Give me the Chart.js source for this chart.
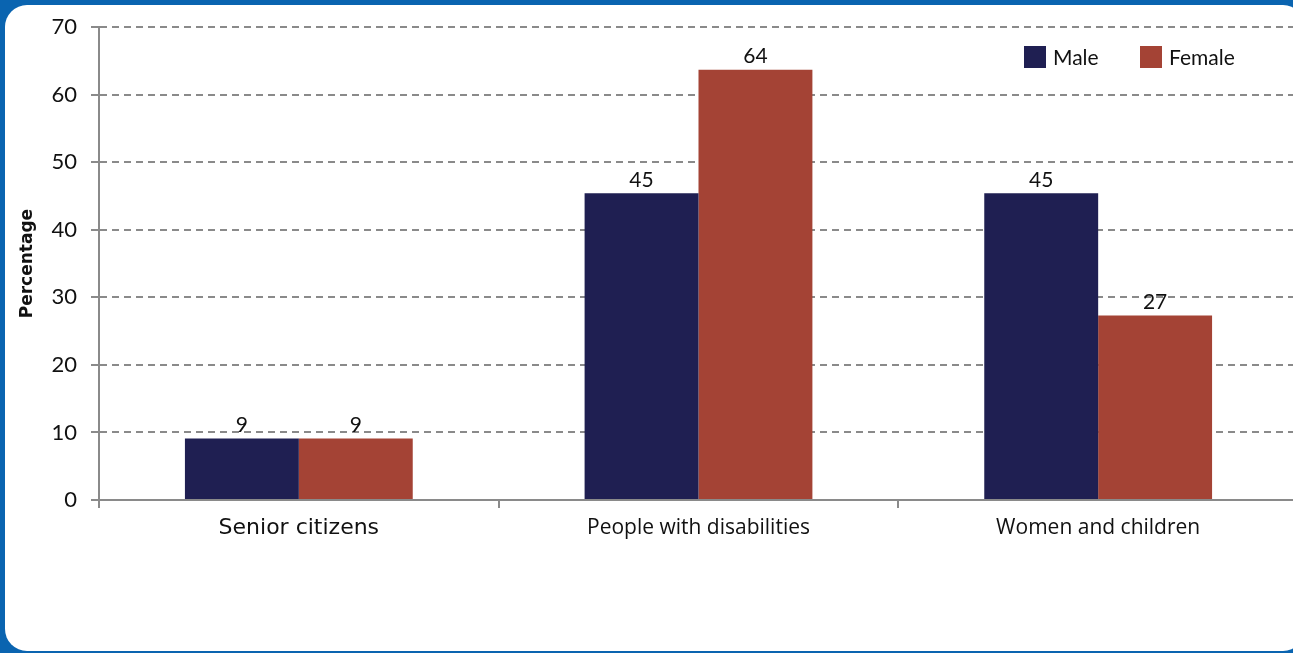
<!DOCTYPE html>
<html>
<head>
<meta charset="utf-8">
<script src="https://cdn.jsdelivr.net/npm/chart.js@4/dist/chart.umd.min.js"></script>
<style>
  html, body { margin:0; padding:0; width:1293px; height:653px; overflow:hidden; background:#0a64b0; }
  #frame { position:absolute; left:5px; top:5px; width:1300px; height:646px; background:#fff; border-radius:22px; }
  #wrap { position:absolute; left:0; top:0; width:1310px; height:653px; }
</style>
</head>
<body>
<div id="frame"></div>
<div id="wrap"><canvas id="c" width="1310" height="653"></canvas></div>
<script>
const categories = ['Senior citizens', 'People with disabilities', 'Women and children'];
const seriesNames = ['Male', 'Female'];
const maleValues = [9.1, 45.4, 45.4];
const femaleValues = [9.1, 63.7, 27.3];
const yTickValues = [0, 10, 20, 30, 40, 50, 60, 70];
const seriesColors = ['#1f1f52', '#a44335'];

const FONT = 'Lato, "DejaVu Sans", sans-serif';

const valueLabels = {
  id: 'valueLabels',
  afterDatasetsDraw(chart) {
    const ctx = chart.ctx;
    ctx.save();
    ctx.fillStyle = '#111';
    ctx.font = '21px ' + FONT;
    ctx.textAlign = 'center';
    ctx.textBaseline = 'bottom';
    chart.data.datasets.forEach((ds, i) => {
      chart.getDatasetMeta(i).data.forEach((bar, j) => {
        ctx.fillText(String(Math.round(ds.data[j])), bar.x, bar.y - 3);
      });
    });
    ctx.restore();
  }
};

const customLegend = {
  id: 'customLegend',
  afterDraw(chart) {
    const ctx = chart.ctx;
    ctx.save();
    ctx.font = '21px ' + FONT;
    ctx.textBaseline = 'middle';
    ctx.textAlign = 'left';
    let x = 1024;
    const y = 57;
    chart.data.datasets.forEach((ds) => {
      ctx.fillStyle = ds.backgroundColor;
      ctx.fillRect(x, y - 11, 22, 22);
      ctx.fillStyle = '#111';
      ctx.fillText(ds.label, x + 29, y + 1);
      x += 116;
    });
    ctx.restore();
  }
};

new Chart(document.getElementById('c'), {
  type: 'bar',
  data: {
    labels: categories,
    datasets: [
      { label: seriesNames[0], data: maleValues, backgroundColor: seriesColors[0] },
      { label: seriesNames[1], data: femaleValues, backgroundColor: seriesColors[1] }
    ]
  },
  options: {
    responsive: false,
    animation: false,
    layout: { padding: { top: 25, left: 0, right: 12, bottom: 0 } },
    datasets: { bar: { categoryPercentage: 0.57, barPercentage: 1.0 } },
    plugins: { legend: { display: false }, tooltip: { enabled: false } },
    scales: {
      x: {
        offset: true,
        grid: { offset: true, drawOnChartArea: false, drawTicks: true, tickLength: 8, color: '#8a8a8a', lineWidth: 2 },
        border: { display: true, color: '#8a8a8a', width: 2 },
        ticks: {
          color: '#111',
          padding: 7,
          font: (c) => c.index === 0 ? { size: 22, family: '"DejaVu Sans", sans-serif' } : { size: 21, family: '"Open Sans", sans-serif' }
        },
        afterFit: (s) => { s.height = 153; }
      },
      y: {
        min: 0, max: 70,
        afterBuildTicks: (s) => { s.ticks = yTickValues.map(v => ({ value: v })); },
        grid: { color: '#8a8a8a', lineWidth: 2, tickLength: 8, tickBorderDash: [], tickColor: '#8a8a8a' },
        border: { display: true, color: '#8a8a8a', width: 2, dash: [7, 5] },
        ticks: { color: '#111', padding: 14, font: { size: 22, family: FONT } },
        title: { display: true, text: 'Percentage', color: '#111', font: { size: 17, weight: 'bold', family: '"DejaVu Sans", sans-serif' }, padding: { top: 17, bottom: 0 } },
        afterFit: (s) => { s.width = 99; }
      }
    }
  },
  plugins: [valueLabels, customLegend]
});
</script>
</body>
</html>
